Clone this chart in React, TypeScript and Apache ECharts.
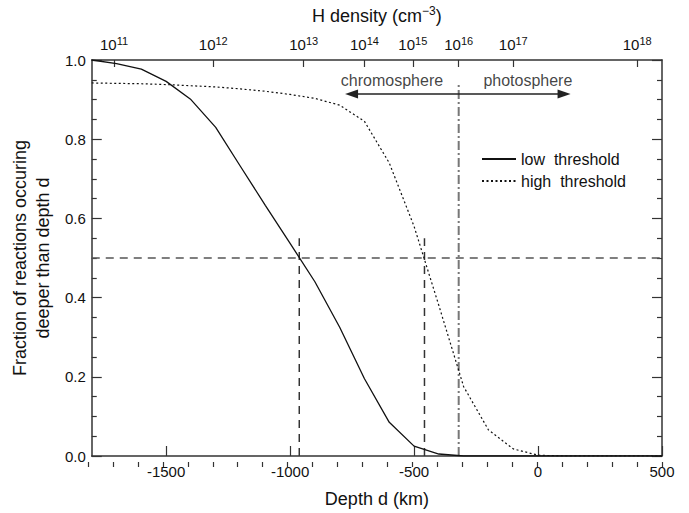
import React, { useEffect, useRef } from "react";
import * as echarts from "echarts";

// ---- data ----
const depthKm = [-1800, -1700, -1600, -1500, -1400, -1300, -1200, -1100, -1000, -900, -800, -700, -600, -500, -400, -300, -200, -100, 0, 100, 200, 300, 400, 500];
const lowThreshold = [1.0, 0.991, 0.977, 0.946, 0.9, 0.83, 0.731, 0.633, 0.537, 0.44, 0.325, 0.195, 0.085, 0.025, 0.005, 0.0, 0, 0, 0, 0, 0, 0, 0, 0];
const highThreshold = [0.942, 0.941, 0.94, 0.938, 0.935, 0.932, 0.927, 0.921, 0.913, 0.903, 0.886, 0.845, 0.74, 0.58, 0.38, 0.175, 0.066, 0.018, 0.002, 0, 0, 0, 0, 0];
const seriesNames = ["low  threshold", "high  threshold"];
const bottomTickLabels = [-1500, -1000, -500, 0, 500];
const bottomMinorStep = 100;
const depthRange = [-1800, 500];
const fractionTicks = [0, 0.2, 0.4, 0.6, 0.8, 1.0];
const densityExponents = [11, 12, 13, 14, 15, 16, 17, 18];
const densityDepthKm = [-1710, -1310, -945, -700, -505, -320, -100, 400];
const halfFraction = 0.5;
const lowHalfDepth = -963;
const highHalfDepth = -458;
const halfMarkerTop = 0.55;
const boundaryDepth = -320;
const boundaryTop = 0.94;
const arrowSpan = [-752, 105];
const arrowLevel = 0.914;
const regionLabels = ["chromosphere", "photosphere"];
const regionLabelDepth = [-589, -41];
const regionLabelLevel = 0.948;

const FONT = "'Liberation Sans', Arial, Helvetica, sans-serif";
const AXIS_COLOR = "#333";

export default function App() {
  const ref = useRef<HTMLDivElement>(null);
  useEffect(() => {
    if (!ref.current) return;
    const chart = echarts.init(ref.current, undefined, { renderer: "svg" });
    const gridRect = { left: 88, top: 60, width: 574, height: 407 };
    const axisLine = { show: true, onZero: false, lineStyle: { color: AXIS_COLOR, width: 1.5 } };
    const tickStyle = { color: AXIS_COLOR, width: 1.2 };
    const arrowSymbol = "path://M5,0L10,14L0,14Z";

    const zip = (ys: number[]) => depthKm.map((d, i) => [d, ys[i]]);

    const option: any = {
      animation: false,
      backgroundColor: "#fff",
      textStyle: { fontFamily: FONT, color: "#111" },
      grid: [
        { ...gridRect, containLabel: false },
        { ...gridRect, containLabel: false },
      ],
      legend: {
        orient: "vertical",
        left: 476,
        top: 146,
        itemWidth: 34,
        itemHeight: 14,
        itemGap: 6,
        data: seriesNames,
        itemStyle: { color: "transparent", borderWidth: 0, opacity: 0 },
        textStyle: { fontSize: 16, color: "#111", fontFamily: FONT },
      },
      xAxis: [
        {
          gridIndex: 0,
          type: "value",
          position: "bottom",
          min: depthRange[0],
          max: depthRange[1],
          axisLine,
          axisTick: { show: true, inside: true, length: 10, customValues: bottomTickLabels, lineStyle: tickStyle },
          axisLabel: {
            customValues: bottomTickLabels,
            formatter: (v: number) => String(v),
            fontSize: 15,
            color: "#111",
            margin: 8,
            fontFamily: FONT,
          },
          splitLine: { show: false },
          name: "Depth d (km)",
          nameLocation: "middle",
          nameGap: 34,
          nameTextStyle: { fontSize: 18, color: "#111", fontFamily: FONT },
        },
        {
          gridIndex: 0,
          type: "value",
          position: "top",
          min: depthRange[0],
          max: depthRange[1],
          axisLine,
          axisTick: { show: true, inside: true, length: 7, customValues: densityDepthKm, lineStyle: tickStyle },
          axisLabel: {
            customValues: densityDepthKm,
            margin: 6,
            formatter: (v: number) => {
              const i = densityDepthKm.indexOf(v);
              return i >= 0 ? `{b|10}{s|${densityExponents[i]}}` : "";
            },
            rich: {
              b: { fontSize: 15, color: "#111", fontFamily: FONT, lineHeight: 19 },
              s: { fontSize: 11, color: "#111", fontFamily: FONT, lineHeight: 11, verticalAlign: "top" },
            },
          },
          splitLine: { show: false },
          name: "H density (cm{s|−3})",
          nameLocation: "middle",
          nameGap: 33,
          nameTextStyle: {
            fontSize: 18,
            color: "#111",
            fontFamily: FONT,
            lineHeight: 22,
            rich: { s: { fontSize: 12, color: "#111", fontFamily: FONT, lineHeight: 12, verticalAlign: "top" } },
          },
        },
        {
          gridIndex: 1,
          type: "value",
          position: "bottom",
          min: depthRange[0],
          max: depthRange[1],
          interval: bottomMinorStep,
          axisLine: { show: false, onZero: false },
          axisTick: { show: true, inside: true, length: 5, lineStyle: tickStyle },
          axisLabel: { show: false },
          splitLine: { show: false },
        },
      ],
      yAxis: [
        {
          gridIndex: 0,
          type: "value",
          position: "left",
          min: fractionTicks[0],
          max: fractionTicks[fractionTicks.length - 1],
          interval: 0.2,
          axisLine,
          axisTick: { show: true, inside: true, length: 10, lineStyle: tickStyle },
          minorTick: { show: true, splitNumber: 4, length: 5, lineStyle: tickStyle },
          axisLabel: { formatter: (v: number) => v.toFixed(1), fontSize: 15, color: "#111", margin: 6, fontFamily: FONT },
          splitLine: { show: false },
          minorSplitLine: { show: false },
          name: "Fraction of reactions occuring\ndeeper than depth d",
          nameLocation: "middle",
          nameRotate: 90,
          nameGap: 35,
          nameTextStyle: { fontSize: 18, color: "#111", fontFamily: FONT, lineHeight: 23 },
        },
        {
          gridIndex: 0,
          type: "value",
          position: "right",
          min: 0,
          max: 1,
          interval: 0.2,
          axisLine,
          axisTick: { show: true, inside: true, length: 10, lineStyle: tickStyle },
          minorTick: { show: true, splitNumber: 4, length: 5, lineStyle: tickStyle },
          axisLabel: { show: false },
          splitLine: { show: false },
          minorSplitLine: { show: false },
        },
        {
          gridIndex: 1,
          type: "value",
          min: 0,
          max: 1,
          show: false,
        },
      ],
      series: [
        {
          name: seriesNames[0],
          type: "line",
          xAxisIndex: 0,
          yAxisIndex: 0,
          data: zip(lowThreshold),
          symbol: "none",
          lineStyle: { color: "#111", width: 1.3, type: "solid" },
          itemStyle: { color: "#111" },
          z: 5,
          markLine: {
            silent: true,
            symbol: [arrowSymbol, arrowSymbol],
            symbolSize: [9, 13],
            label: { show: false },
            lineStyle: { color: "#222", width: 1.5, type: "solid" },
            itemStyle: { color: "#222" },
            data: [[{ coord: [arrowSpan[0], arrowLevel] }, { coord: [arrowSpan[1], arrowLevel] }]],
          },
        },
        {
          name: seriesNames[1],
          type: "line",
          xAxisIndex: 0,
          yAxisIndex: 0,
          data: zip(highThreshold),
          symbol: "none",
          lineStyle: { color: "#111", width: 1.2, type: [2, 2.5] },
          itemStyle: { color: "#111" },
          z: 5,
        },
        {
          name: "half",
          type: "line",
          xAxisIndex: 0,
          yAxisIndex: 0,
          data: [[depthRange[0], halfFraction], [depthRange[1], halfFraction]],
          symbol: "none",
          lineStyle: { color: "#555", width: 1.5, type: [8, 6] },
          z: 3,
        },
        {
          name: "lowHalf",
          type: "line",
          xAxisIndex: 0,
          yAxisIndex: 0,
          data: [[lowHalfDepth, 0], [lowHalfDepth, halfMarkerTop]],
          symbol: "none",
          lineStyle: { color: "#333", width: 1.5, type: [8, 6] },
          z: 3,
        },
        {
          name: "highHalf",
          type: "line",
          xAxisIndex: 0,
          yAxisIndex: 0,
          data: [[highHalfDepth, 0], [highHalfDepth, halfMarkerTop]],
          symbol: "none",
          lineStyle: { color: "#333", width: 1.5, type: [8, 6] },
          z: 3,
        },
        {
          name: "boundary",
          type: "line",
          xAxisIndex: 0,
          yAxisIndex: 0,
          data: [[boundaryDepth, 0], [boundaryDepth, boundaryTop]],
          symbol: "none",
          lineStyle: { color: "#777", width: 2, type: [9, 3, 2, 3] },
          z: 3,
        },
        {
          name: "regions",
          type: "scatter",
          xAxisIndex: 0,
          yAxisIndex: 0,
          data: regionLabels.map((t, i) => [regionLabelDepth[i], regionLabelLevel, t]),
          symbolSize: 1,
          itemStyle: { color: "rgba(0,0,0,0)" },
          label: {
            show: true,
            position: "inside",
            formatter: (p: any) => p.data[2],
            fontSize: 16,
            color: "#111",
            fontFamily: FONT,
          },
          z: 6,
        },
      ],
    };
    chart.setOption(option);
    return () => chart.dispose();
  }, []);
  return <div ref={ref} style={{ position: "absolute", left: 0, top: 0, width: 689, height: 513 }} />;
}
